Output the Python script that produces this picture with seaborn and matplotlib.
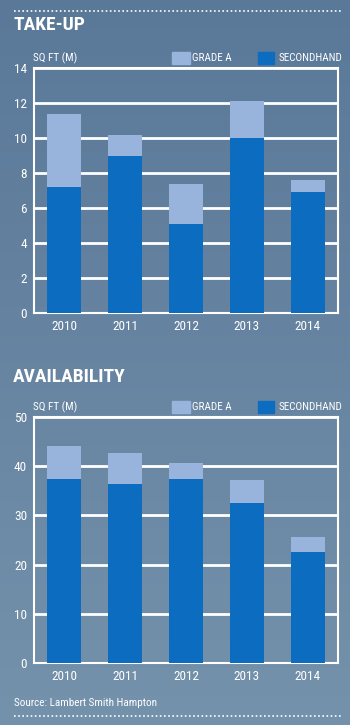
import matplotlib
matplotlib.use("Agg")
import matplotlib.pyplot as plt
import numpy as np
import pandas as pd
import seaborn as sns
from matplotlib.patches import Rectangle

sns.set_theme(style="white")
plt.rcParams['font.family'] = ['Roboto Condensed', 'DejaVu Sans']

years = ["2010", "2011", "2012", "2013", "2014"]
takeup_secondhand = [7.2, 9.0, 5.1, 10.0, 6.9]
takeup_total = [11.4, 10.2, 7.4, 12.1, 7.6]
avail_secondhand = [37.5, 36.3, 37.3, 32.5, 22.5]
avail_total = [44.2, 42.6, 40.7, 37.1, 25.7]

C_SEC = "#0b6cc0"
C_GA = "#98b4dc"
WHITE = "white"

W, H = 350, 725
fig = plt.figure(figsize=(W / 100, H / 100), dpi=100)

# gradient background
bg = fig.add_axes([0, 0, 1, 1], zorder=-10)
top = np.array([0x5a, 0x78, 0x98]) / 255
bot = np.array([0x74, 0x92, 0xab]) / 255
t = np.linspace(0, 1, 256)
arr = np.zeros((256, 1, 3))
for i in range(3):
    arr[:, 0, i] = top[i] + (bot[i] - top[i]) * t
bg.imshow(arr, aspect="auto", extent=[0, 1, 0, 1])
bg.set_axis_off()


def px_axes(l, t, r, b):
    return fig.add_axes([l / W, 1 - b / H, (r - l) / W, (b - t) / H])


def draw(ax, sec, tot, ymax, step):
    df = pd.DataFrame({"year": years, "sec": sec, "tot": tot})
    sns.barplot(data=df, x="year", y="tot", color=C_GA, width=0.56,
                saturation=1, ax=ax, zorder=3, edgecolor="none", linewidth=0)
    sns.barplot(data=df, x="year", y="sec", color=C_SEC, width=0.56,
                saturation=1, ax=ax, zorder=4, edgecolor="none", linewidth=0)
    ax.set_facecolor("none")
    ax.set_ylim(0, ymax)
    ax.set_xlim(-0.5, 4.5)
    ax.set_yticks(np.arange(0, ymax + 0.1, step))
    ax.yaxis.grid(True, color=WHITE, linewidth=2)
    ax.set_axisbelow(True)
    for s in ax.spines.values():
        s.set_visible(True)
        s.set_color(WHITE)
        s.set_linewidth(1.5)
    ax.set_xlabel("")
    ax.set_ylabel("")
    ax.tick_params(axis="both", colors=WHITE, labelsize=9.5, length=0, pad=5)
    for lbl in ax.get_xticklabels() + ax.get_yticklabels():
        lbl.set_color(WHITE)


ax1 = px_axes(34, 68, 338, 313)
draw(ax1, takeup_secondhand, takeup_total, 14, 2)
ax2 = px_axes(34, 417, 338, 663)
draw(ax2, avail_secondhand, avail_total, 50, 10)


def header(title, ty, ly):
    fig.text(13 / W, 1 - ty / H, title, color=WHITE, fontsize=14,
             fontweight="bold", va="center", ha="left")
    fig.text(33 / W, 1 - ly / H, "SQ FT (M)", color=WHITE, fontsize=8,
             va="center", ha="left")
    fig.patches.append(Rectangle((172 / W, 1 - (ly + 6) / H), 18 / W, 12 / H,
                                 color=C_GA, transform=fig.transFigure))
    fig.text(192 / W, 1 - ly / H, "GRADE A", color=WHITE, fontsize=8,
             va="center", ha="left")
    fig.patches.append(Rectangle((258 / W, 1 - (ly + 6) / H), 16 / W, 12 / H,
                                 color=C_SEC, transform=fig.transFigure))
    fig.text(279 / W, 1 - ly / H, "SECONDHAND", color=WHITE, fontsize=8,
             va="center", ha="left")


header("TAKE-UP", 25, 58)
header("AVAILABILITY", 377, 407)

fig.text(14 / W, 1 - 703 / H, "Source: Lambert Smith Hampton", color=WHITE,
         fontsize=8, va="center", ha="left")

for y in (11, 716):
    fig.add_artist(plt.Line2D([14 / W, 341 / W], [1 - y / H, 1 - y / H],
                              color=WHITE, linestyle=(0, (1, 1.5)),
                              linewidth=1.2, transform=fig.transFigure))

fig.savefig("out.png", dpi=100)
